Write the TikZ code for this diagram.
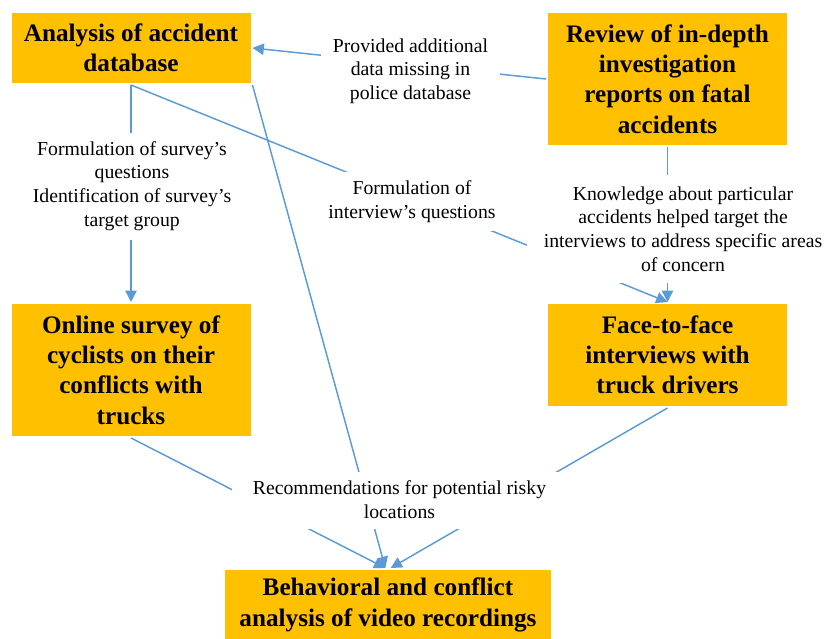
\documentclass[tikz,border=0pt]{standalone}
\usepackage{fontspec}
\setmainfont{Liberation Serif}
\usetikzlibrary{arrows.meta}
\definecolor{boxgold}{HTML}{FFC000}
\definecolor{linkblue}{HTML}{5B9BD5}
\tikzset{
 stage/.style={fill=boxgold, align=center, inner sep=0pt, outer sep=1.5pt,
  minimum width=179.25pt, font=\fontsize{18.9}{22.7}\selectfont\bfseries},
 note/.style={fill=white, align=center, inner sep=0pt,
  font=\fontsize{14.8}{17.8}\selectfont},
 link/.style={linkblue, line width=1.1pt},
 flow/.style={link, -{Triangle[length=8.5pt,width=8.5pt]}}
}
\begin{document}
\begin{tikzpicture}[x=.75pt,y=-.75pt]
\useasboundingbox (0,0) rectangle (826,639);
% boxes
\node[stage, minimum height=52.5pt] (acc) at (131,48) {Analysis of accident\\database};
\node[stage, minimum height=99pt] (rev) at (667.5,79) {Review of in-depth\\investigation\\reports on fatal\\accidents};
\node[stage, minimum height=99pt] (surv) at (131,370) {Online survey of\\cyclists on their\\conflicts with\\trucks};
\node[stage, minimum height=76.5pt] (intv) at (667.5,355) {Face-to-face\\interviews with\\truck drivers};
\node[stage, minimum height=52.5pt, minimum width=244.5pt] (video) at (388,605) {Behavioral and conflict\\analysis of video recordings};
% links
\draw[flow] (rev.west) -- (acc.east);
\draw[flow] (acc.south) -- (surv.north);
\draw[flow] (acc.south) -- (intv.north);
\draw[flow] (rev.south) -- (intv.north);
\draw[flow] (acc.south east) -- ([xshift=-2pt]video.north);
\draw[flow] (surv.south) -- ([xshift=-2pt]video.north);
\draw[flow] (intv.south) -- ([xshift=2pt]video.north);
% labels over the links
\node[note, minimum width=134.25pt, minimum height=52.5pt] (lprov) at (410.5,71) {Provided additional\\data missing in\\police database};
\node[note, minimum width=157.5pt, minimum height=80.25pt] (lsurv) at (132,186) {Formulation of survey’s\\questions\\Identification of survey’s\\target group};
\node[note, minimum width=142.5pt, minimum height=44.25pt] (lint) at (412,201.5) {Formulation of\\interview’s questions};
\node[note, minimum width=234pt, minimum height=81pt] (lknow) at (683,229) {Knowledge about particular\\accidents helped target the\\interviews to address specific areas\\of concern};
\node[note, minimum width=251.25pt, minimum height=42.75pt] (lrec) at (399.5,500) {Recommendations for potential risky\\locations};
\end{tikzpicture}
\end{document}
